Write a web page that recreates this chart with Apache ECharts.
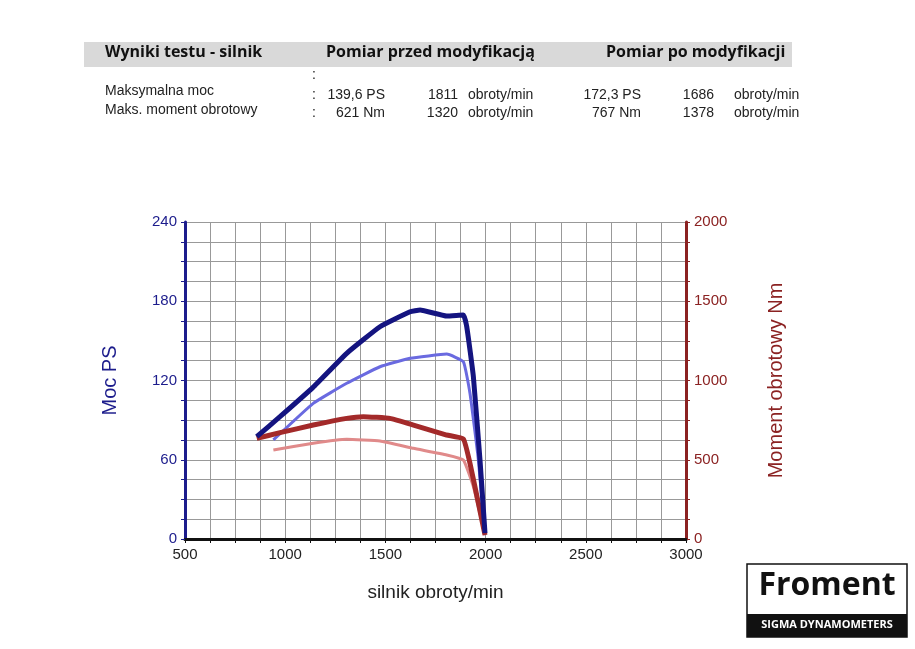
<!DOCTYPE html>
<html><head><meta charset="utf-8">
<script src="https://cdn.jsdelivr.net/npm/echarts@6/dist/echarts.min.js"></script>
<style>html,body{margin:0;padding:0;background:#fff}#c{width:915px;height:649px}</style>
</head><body><div id="c"></div>
<script>
const powerAfter = [[858,77.5],[974,92.6],[1140,115],[1307,140.6],[1473,160.7],[1623,172],[1673,173.4],[1806,168.8],[1889,169.6],[1906,160.7],[1939,122.9],[1972,59.8],[1997,4.5]];
const powerBefore = [[941,75],[1140,102.7],[1307,117.9],[1473,130.4],[1623,136.8],[1806,140],[1889,134.2],[1922,110.3],[1964,59.8],[1997,3]];
const torqueAfter = [[858,635],[974,671],[1140,719],[1307,761],[1390,772],[1523,761],[1640,719],[1806,656],[1889,631],[1922,478],[1964,225],[1997,25]];
const torqueBefore = [[941,561],[1140,604],[1307,629],[1473,618],[1640,572],[1806,530],[1889,498],[1939,330],[1997,25]];
const header = ['Wyniki testu - silnik','Pomiar przed modyfikacją','Pomiar po modyfikacji'];
const rows = [
  ['Maksymalna moc','139,6 PS','1811','obroty/min','172,3 PS','1686','obroty/min'],
  ['Maks. moment obrotowy','621 Nm','1320','obroty/min','767 Nm','1378','obroty/min']
];
const blue='#1c1c8c', red='#8b2222';
const ch = echarts.init(document.getElementById('c'));
const F='Liberation Sans';
const t=(x,y,s,o)=>Object.assign({type:'text',left:x,top:y,style:Object.assign({text:s,font:'14px '+F,fill:'#222'},o||{})});
const r=(x,y,s)=>({type:'text',x:x,y:y,style:{text:s,font:'14px '+F,fill:'#222',align:'right'}});
const hb={font:'bold 16px "Open Sans"',fill:'#111'};
const g=[
 {type:'rect',shape:{x:84,y:42,width:708,height:25},style:{fill:'#d9d9d9'}},
 t(105,44,header[0],hb),t(326,44,header[1],hb),t(606,44,header[2],hb),
 t(312,68,':'),
 t(105,84,rows[0][0]),t(105,103,rows[1][0]),
 t(312,88,':'),t(312,106,':')
];
rows.forEach((row,i)=>{const y=88+i*18;
 g.push(r(385,y,row[1]),r(458,y,row[2]),t(468,y,row[3]),r(641,y,row[4]),r(714,y,row[5]),t(734,y,row[6]));});
g.push({type:'rect',shape:{x:747,y:564,width:160,height:73},style:{fill:'#fff',stroke:'#111',lineWidth:1.5}},
 {type:'rect',shape:{x:747,y:614,width:160,height:23},style:{fill:'#111'}},
 {type:'text',x:827,y:570,style:{text:'Froment',font:'bold 32px "Open Sans"',fill:'#111',align:'center'}},
 {type:'text',x:827,y:619,style:{text:'SIGMA DYNAMOMETERS',font:'bold 11px "Open Sans"',fill:'#fff',align:'center'}});
const lab=(m,c)=>({color:c,fontSize:15,fontFamily:F,formatter:v=>v%m===0?String(v):''});
ch.setOption({
 animation:false,
 graphic:g,
 grid:{left:185,right:229,top:222,bottom:110},
 xAxis:{type:'value',min:500,max:3000,interval:125,name:'silnik obroty/min',nameLocation:'middle',nameGap:44,
  nameTextStyle:{fontSize:19,fontFamily:F,color:'#222'},
  axisLine:{lineStyle:{color:'#111',width:3}},axisTick:{show:true,length:4,lineStyle:{color:'#111'}},
  axisLabel:lab(500,'#222'),splitLine:{lineStyle:{color:'#999',width:1}}},
 yAxis:[
  {type:'value',min:0,max:240,interval:15,name:'Moc PS',nameLocation:'middle',nameGap:65,
   nameTextStyle:{fontSize:20,fontFamily:F,color:blue},
   axisLine:{show:true,lineStyle:{color:blue,width:3}},axisTick:{show:true,length:4,lineStyle:{color:blue}},
   axisLabel:lab(60,blue),splitLine:{lineStyle:{color:'#999'}}},
  {type:'value',min:0,max:2000,interval:125,position:'right',name:'Moment obrotowy Nm',nameLocation:'middle',nameGap:80,
   nameRotate:90,nameTextStyle:{fontSize:20,fontFamily:F,color:red},
   axisLine:{show:true,lineStyle:{color:red,width:3}},axisTick:{show:true,length:4,lineStyle:{color:red}},
   axisLabel:lab(500,red),splitLine:{show:false}}
 ],
 series:[
  {type:'line',data:torqueBefore,yAxisIndex:1,showSymbol:false,smooth:0.12,lineStyle:{color:'#e08a8a',width:3}},
  {type:'line',data:powerBefore,yAxisIndex:0,showSymbol:false,smooth:0.12,lineStyle:{color:'#6a6ae0',width:3}},
  {type:'line',data:torqueAfter,yAxisIndex:1,showSymbol:false,smooth:0.12,lineStyle:{color:'#a32a2a',width:5}},
  {type:'line',data:powerAfter,yAxisIndex:0,showSymbol:false,smooth:0.12,lineStyle:{color:'#141480',width:5}}
 ]
});
</script></body></html>
